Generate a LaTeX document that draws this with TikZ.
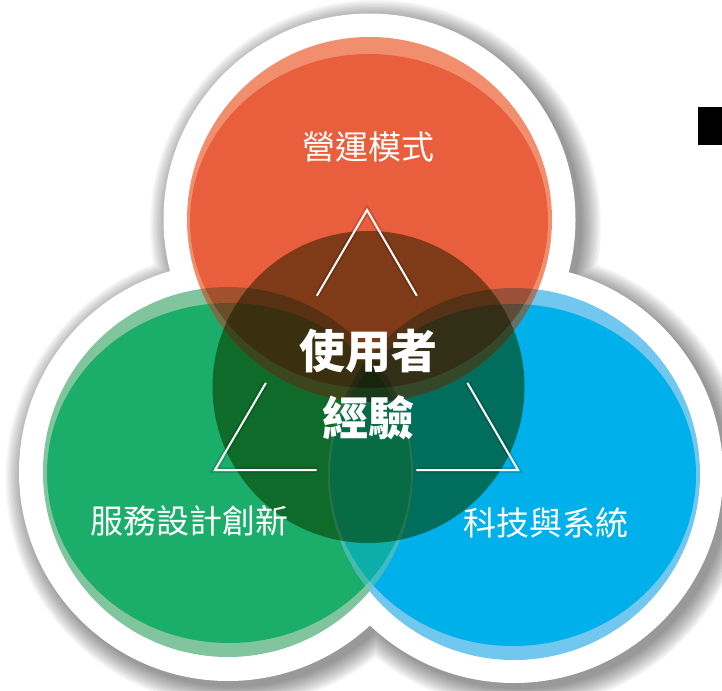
\documentclass[tikz,border=0pt]{standalone}
\usepackage{fontspec}
\newfontfamily\cjk{Noto Sans CJK TC}
\usetikzlibrary{calc}
\definecolor{redM}{RGB}{233,94,60}
\definecolor{redL}{RGB}{240,142,110}
\definecolor{greenM}{RGB}{27,174,107}
\definecolor{greenL}{RGB}{128,197,157}
\definecolor{blueM}{RGB}{0,176,234}
\definecolor{blueL}{RGB}{114,199,239}
\definecolor{centerC}{RGB}{140,158,102}
\tikzset{
  lab/.style={font=\cjk\fontsize{33}{33}\selectfont, text=white, inner sep=0pt, anchor=base},
  biglab/.style={font=\cjk\bfseries\fontsize{46}{46}\selectfont, text=white, inner sep=0pt, anchor=base},
  triline/.style={draw=white, line width=2pt},
  trishadow/.style={draw=black, opacity=0.12, line width=6pt, shift={(1,4)}},
  mult/.style={blend mode=multiply, opacity=0.6}
}
\def\rL{(369.5,219.5) circle[radius=182.5]}
\def\rM{(369,221) ellipse[x radius=179, y radius=167]}
\def\gL{(228,472) circle[radius=185]}
\def\gM{(229,473) ellipse[x radius=182, y radius=170]}
\def\bL{(514,474) circle[radius=186]}
\def\bM{(513,475) ellipse[x radius=183, y radius=171]}
\begin{document}
\begin{tikzpicture}[x=1pt,y=-1pt]
\useasboundingbox (0,0) rectangle (722,690);
\fill[white] (0,0) rectangle (722,690);
% drop shadow of white base
\foreach \i in {0,...,14}{
  \fill[black,opacity=0.03,shift={(6,6)}] (369.5,219.5) circle[radius=206+\i*1.4]
     (228,472) circle[radius=209+\i*1.4] (514,474) circle[radius=209+\i*1.4];
}
\fill[white] (369.5,219.5) circle[radius=206] (228,472) circle[radius=209] (514,474) circle[radius=209];
% green and blue discs
\fill[greenL] \gL; \fill[greenM] \gM;
\fill[blueL] \bL; \fill[blueM] \bM;
\begin{scope}
  \clip \bL;
  \fill[greenL, opacity=0.5, even odd rule] \gL \gM;
  \fill[greenM, opacity=0.5] \gM;
\end{scope}
% red disc
\fill[redL] \rL; \fill[redM] \rM;
\begin{scope}
  \clip \rL;
  \fill[greenL, mult, even odd rule] \gL \gM;
  \fill[greenM, mult] \gM;
  \fill[blueL, mult, even odd rule] \bL \bM;
  \fill[blueM, mult] \bM;
\end{scope}
% centre disc
\coordinate (C) at (368.5,387);
\fill[centerC, blend mode=multiply] (C) circle[radius=156];
% triangle
\coordinate (A) at (367,210);
\coordinate (BL) at (215,470);
\coordinate (BR) at (518,470);
\coordinate (a1) at ($(A)!0.33!(BL)$);
\coordinate (a2) at ($(A)!0.665!(BL)$);
\coordinate (b1) at ($(A)!0.33!(BR)$);
\coordinate (b2) at ($(A)!0.665!(BR)$);
\coordinate (c1) at ($(BL)!0.335!(BR)$);
\coordinate (c2) at ($(BL)!0.665!(BR)$);
\draw[trishadow] (a1) -- (A) -- (b1);
\draw[trishadow] (a2) -- (BL) -- (c1);
\draw[trishadow] (b2) -- (BR) -- (c2);
\draw[triline] (a1) -- (A) -- (b1);
\draw[triline] (a2) -- (BL) -- (c1);
\draw[triline] (b2) -- (BR) -- (c2);
% labels
\node[lab] (top) at (368,159) {營運模式};
\node[lab] (left) at (189,533) {服務設計創新};
\node[lab] (right) at (545.5,535) {科技與系統};
\node[biglab] (ux1) at (368.5,368) {使用者};
\node[biglab] (ux2) at (368.5,435) {經驗};
% black square
\fill[black] (698,107) rectangle (722,145);
\end{tikzpicture}
\end{document}
